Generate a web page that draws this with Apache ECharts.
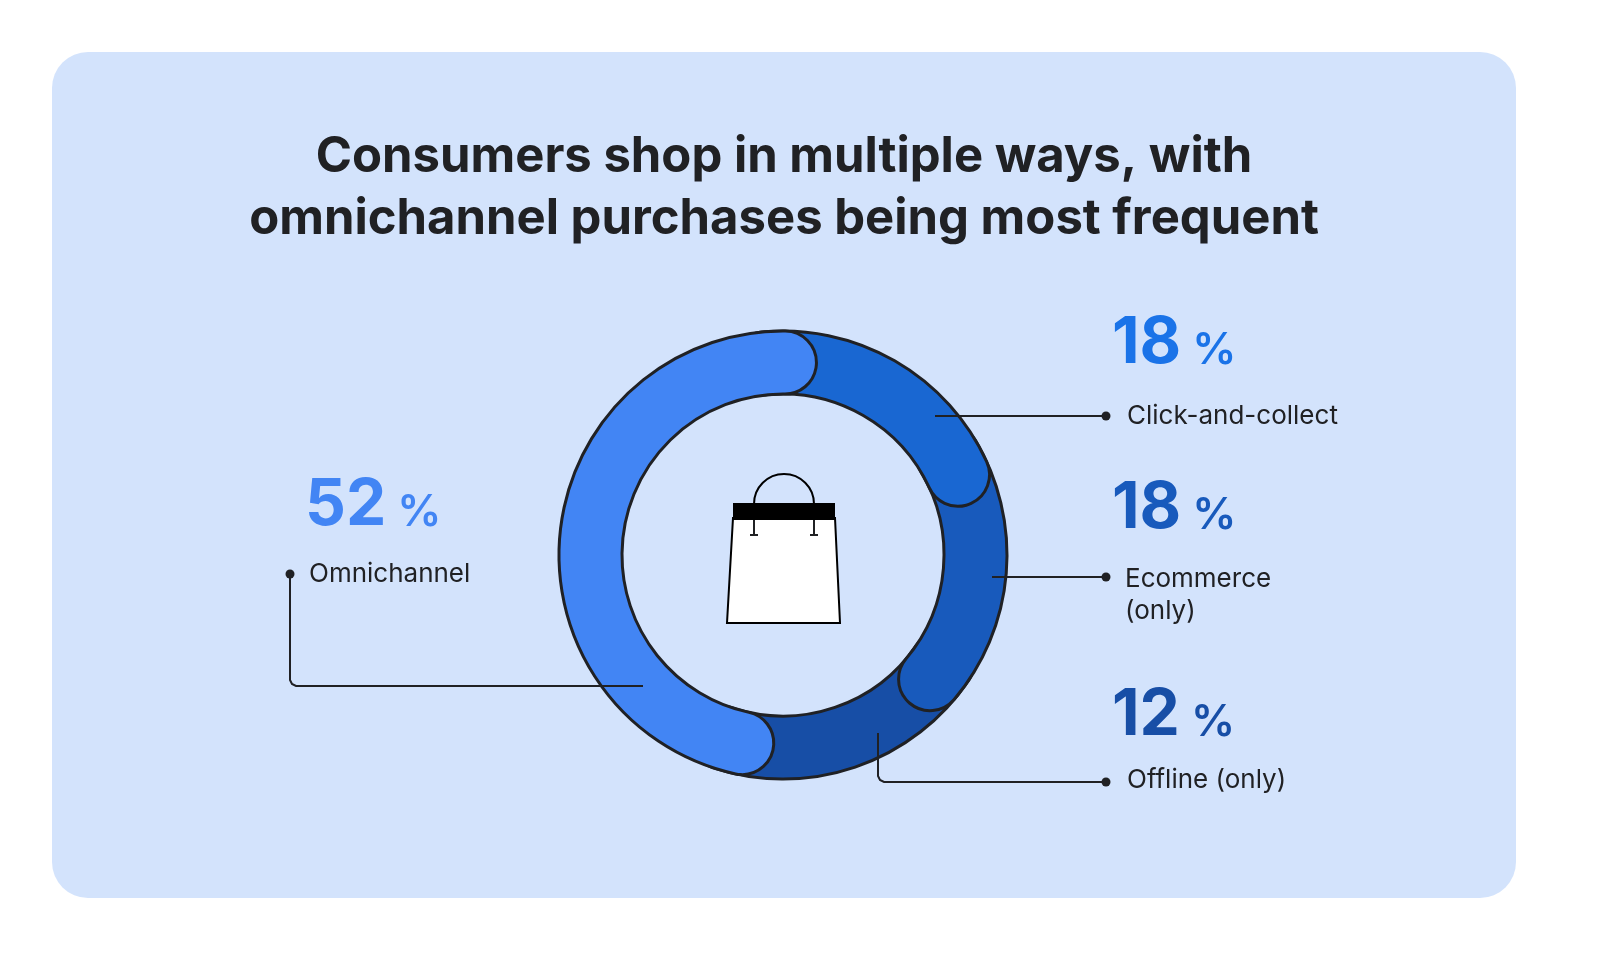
<!DOCTYPE html>
<html><head><meta charset="utf-8">
<script src="https://cdn.jsdelivr.net/npm/echarts@6/dist/echarts.min.js"></script>
<style>html,body{margin:0;background:#fff}#c{width:1600px;height:971px}</style>
</head><body><div id="c"></div>
<script>
const categories = ['Click-and-collect', 'Ecommerce (only)', 'Offline (only)', 'Omnichannel'];
const values = [18, 18, 12, 52];
const colors = ['#1967d2', '#185abc', '#174ea6', '#4285f4'];
const pctColors = ['#1a73e8', '#185abc', '#174ea6', '#4285f4'];
const startClock = 10; // clock angle where Click-and-collect begins
const ext = 25;        // hidden overlap under neighbouring segment

const chart = echarts.init(document.getElementById('c'));
const cx = 783, cy = 555;
let acc = startClock; const seg = [];
values.forEach(v => { const s = acc; acc += v * 3.6; seg.push([s, acc]); });
const drawn = [
  [seg[0][0] - ext, seg[0][1], 3],
  [seg[1][0] - ext, seg[1][1], 2],
  [seg[2][0] - ext, seg[2][1] + ext, 1],
  [seg[3][0], seg[3][1], 4]
];
const series = drawn.map((d, i) => {
  const len = d[1] - d[0];
  return {
    type: 'pie', center: [cx, cy], radius: [161, 224], z: d[2], zlevel: 0,
    startAngle: 90 - d[0], clockwise: true, silent: true, label: {show: false}, labelLine: {show: false},
    emphasis: {disabled: true}, animation: false, avoidLabelOverlap: false,
    itemStyle: {borderRadius: 31.5},
    data: [
      {name: categories[i], value: len, itemStyle: {color: colors[i], borderColor: '#202124', borderWidth: 3}},
      {name: 'rest', value: 360 - len, itemStyle: {color: 'rgba(0,0,0,0)', borderWidth: 0}}
    ]
  };
});
const F = 'Inter, "Noto Sans", sans-serif';
function pct(x, y, i) {
  return {type: 'text', left: x, top: y, z: 10, style: {
    text: '{a|' + values[i] + '}{b| %}', rich: {
      a: {fontSize: 64, fontWeight: 700, fontFamily: F, fill: pctColors[i], letterSpacing: -3},
      b: {fontSize: 44, fontWeight: 600, fontFamily: F, fill: pctColors[i], padding: [14, 0, 0, 0]}}}};
}
function lab(x, y, t) {
  return {type: 'text', left: x, top: y, z: 10, style: {text: t, fontSize: 26, fontFamily: F, fill: '#202124', lineHeight: 32}};
}
function dot(x, y) { return {type: 'circle', z: 10, shape: {cx: x, cy: y, r: 4.5}, style: {fill: '#202124'}}; }
function line(pts) { return {type: 'polyline', z: 10, shape: {points: pts}, style: {stroke: '#202124', lineWidth: 2, fill: null}}; }
const graphic = [
  {type: 'rect', z: -10, shape: {x: 52, y: 52, width: 1464, height: 846, r: 36}, style: {fill: '#d3e3fc'}},
  {type: 'text', x: 784, y: 126, z: 10, style: {text: 'Consumers shop in multiple ways, with\nomnichannel purchases being most frequent',
    fontSize: 49, fontWeight: 700, fontFamily: F, fill: '#202124', align: 'center', verticalAlign: 'top', lineHeight: 62}},
  {type: 'polygon', z: 10, shape: {points: [[733, 518], [835, 518], [840, 623], [727, 623]]}, style: {fill: '#fff', stroke: '#000', lineWidth: 2}},
  {type: 'rect', z: 11, shape: {x: 733, y: 503, width: 102, height: 17}, style: {fill: '#000'}},
  {type: 'arc', z: 10, shape: {cx: 784, cy: 504, r: 30, startAngle: Math.PI, endAngle: 2 * Math.PI}, style: {stroke: '#000', lineWidth: 2, fill: null}},
  line([[754, 518], [754, 535]]), line([[750, 535], [758, 535]]),
  line([[814, 518], [814, 535]]), line([[810, 535], [818, 535]]),
  line([[935, 416], [1106, 416]]), dot(1106, 416),
  line([[992, 577], [1106, 577]]), dot(1106, 577),
  line([[878, 733], [878, 776], [880, 780], [884, 782], [1106, 782]]), dot(1106, 782),
  line([[290, 574], [290, 680], [292, 684], [296, 686], [643, 686]]), dot(290, 574),
  pct(1112, 312, 0), lab(1127, 400, 'Click-and-collect'),
  pct(1112, 477, 1), lab(1125, 563, 'Ecommerce\n(only)'),
  pct(1112, 684, 2), lab(1127, 764, 'Offline (only)'),
  pct(305, 474, 3), lab(309, 558, 'Omnichannel')
];
chart.setOption({backgroundColor: '#fff', animation: false, series, graphic});
</script></body></html>
